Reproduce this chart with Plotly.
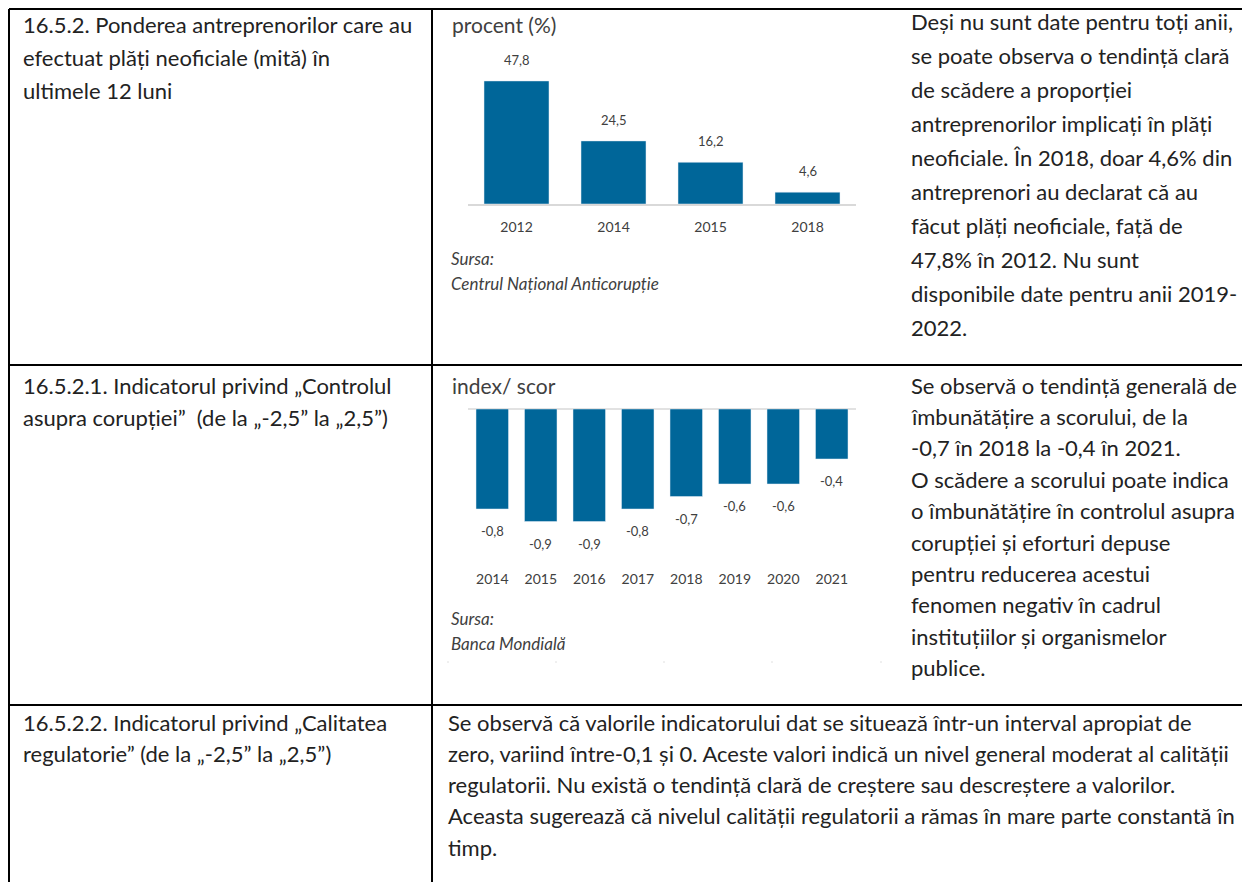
import plotly.graph_objects as go

# the page body keeps its default 8px margin, so the figure is shifted by that much
OFF = 8
W, H = 1250 - OFF, 882 - OFF

# chart 1 - plati neoficiale
years_1 = ["2012", "2014", "2015", "2018"]
share_1 = [47.8, 24.5, 16.2, 4.6]

# chart 2 - controlul asupra coruptiei
years_2 = ["2014", "2015", "2016", "2017", "2018", "2019", "2020", "2021"]
score_2 = [-0.8, -0.9, -0.9, -0.8, -0.7, -0.6, -0.6, -0.4]

left_1 = ["16.5.2. Ponderea antreprenorilor care au",
          "efectuat plăți neoficiale (mită) în",
          "ultimele 12 luni"]
right_1 = ["Deși nu sunt date pentru toți anii,",
           "se poate observa o tendință clară",
           "de scădere a proporției",
           "antreprenorilor implicați în plăți",
           "neoficiale. În 2018, doar 4,6% din",
           "antreprenori au declarat că au",
           "făcut plăți neoficiale, față de",
           "47,8% în 2012. Nu sunt",
           "disponibile date pentru anii 2019-",
           "2022."]
left_2 = ["16.5.2.1. Indicatorul privind „Controlul",
          "asupra corupției”  (de la „-2,5” la „2,5”)"]
right_2 = ["Se observă o tendință generală de",
           "îmbunătățire a scorului, de la",
           "-0,7 în 2018 la -0,4 în 2021.",
           "O scădere a scorului poate indica",
           "o îmbunătățire în controlul asupra",
           "corupției și eforturi depuse",
           "pentru reducerea acestui",
           "fenomen negativ în cadrul",
           "instituțiilor și organismelor",
           "publice."]
left_3 = ["16.5.2.2. Indicatorul privind „Calitatea",
          "regulatorie” (de la „-2,5” la „2,5”)"]
right_3 = ["Se observă că valorile indicatorului dat se situează într-un interval apropiat de",
           "zero, variind între-0,1 și 0. Aceste valori indică un nivel general moderat al calității",
           "regulatorii. Nu există o tendință clară de creștere sau descreștere a valorilor.",
           "Aceasta sugerează că nivelul calității regulatorii a rămas în mare parte constantă în",
           "timp."]

FONT = "Lato"
BLUE = "#006699"
TXT = "#222222"
GREY = "#404040"


def px(x):
    return (x - OFF) / W


def py(y):
    return 1 - (y - OFF) / H


def fmt(v):
    return f"{v:.1f}".replace(".", ",")


fig = go.Figure()
fig.add_trace(go.Bar(x=years_1, y=share_1, marker_color=BLUE, xaxis="x", yaxis="y",
                     hoverinfo="skip"))
fig.add_trace(go.Bar(x=years_2, y=score_2, marker_color=BLUE, xaxis="x2", yaxis="y2",
                     hoverinfo="skip"))

# value labels, placed by category index on the category axes
annotations = []
for i, v in enumerate(share_1):
    annotations.append(dict(x=i, y=v, xref="x", yref="y", text=fmt(v), showarrow=False,
                            yanchor="bottom", yshift=11, font=dict(size=13, color=GREY)))
for i, v in enumerate(score_2):
    annotations.append(dict(x=i, y=v, xref="x2", yref="y2", text=fmt(v), showarrow=False,
                            yanchor="top", yshift=-12, font=dict(size=13, color=GREY)))


def text_block(lines, x, y0, step, size=22):
    for i, line in enumerate(lines):
        annotations.append(dict(x=px(x), y=py(y0 + i * step), xref="paper", yref="paper",
                                text=line, showarrow=False, xanchor="left", yanchor="middle",
                                font=dict(size=size, color=TXT, family=FONT)))


text_block(left_1, 21, 25, 32.5)
text_block(right_1, 909, 22, 33.9)
text_block(left_2, 21, 385, 32)
text_block(right_2, 909, 385, 31.4)
text_block(left_3, 21, 722, 31.3)
text_block(right_3, 446, 722, 31.3)

# chart captions
for txt, x, y, size, ital in [("procent (%)", 450, 25, 21, False),
                              ("Sursa:", 449, 258, 17, True),
                              ("Centrul Național Anticorupție", 449, 283, 17, True),
                              ("index/ scor", 450, 385, 21, False),
                              ("Sursa:", 449, 618, 17, True),
                              ("Banca Mondială", 449, 643, 17, True)]:
    annotations.append(dict(x=px(x), y=py(y), xref="paper", yref="paper",
                            text=f"<i>{txt}</i>" if ital else txt, showarrow=False,
                            xanchor="left", yanchor="middle",
                            font=dict(size=size, color=GREY, family=FONT)))

shapes = []
line = dict(color="black", width=2)
# table borders (outer ones kept just inside the figure so they are not clipped)
shapes.append(dict(type="line", xref="paper", yref="paper", x0=px(9), x1=1, y0=py(9), y1=py(9), line=line))
shapes.append(dict(type="line", xref="paper", yref="paper", x0=px(9), x1=1, y0=py(365), y1=py(365), line=line))
shapes.append(dict(type="line", xref="paper", yref="paper", x0=px(9), x1=1, y0=py(705), y1=py(705), line=line))
shapes.append(dict(type="line", xref="paper", yref="paper", x0=px(9), x1=px(9), y0=py(9), y1=0, line=line))
shapes.append(dict(type="line", xref="paper", yref="paper", x0=px(432), x1=px(432), y0=py(9), y1=0, line=line))
# zero line of chart 2
shapes.append(dict(type="line", xref="paper", yref="paper", x0=px(468), x1=px(856), y0=py(409), y1=py(409),
                   line=dict(color="#d9d9d9", width=1.5), layer="below"))
# faint remnants of the chart frame
for x in [447, 555, 663, 771, 880]:
    shapes.append(dict(type="line", xref="paper", yref="paper", x0=px(x), x1=px(x + 2), y0=py(662), y1=py(662),
                       line=dict(color="#e0e0e0", width=1)))

fig.update_layout(
    width=W, height=H, margin=dict(l=0, r=0, t=0, b=0),
    paper_bgcolor="white", plot_bgcolor="white", showlegend=False,
    font=dict(family=FONT, color=GREY),
    bargap=0.33,
    xaxis=dict(domain=[px(468), px(856)], anchor="y", type="category", range=[-0.5, len(years_1) - 0.5],
               showline=True, linecolor="#d9d9d9", linewidth=1.5, ticks="", ticklabelstandoff=9,
               tickfont=dict(size=14, color=GREY), showgrid=False),
    yaxis=dict(domain=[py(204), py(40)], anchor="x", range=[0, 63.7], visible=False, showgrid=False),
    xaxis2=dict(domain=[px(468), px(856)], anchor="y2", type="category", range=[-0.5, len(years_2) - 0.5],
                showline=False, ticks="", ticklabelstandoff=9, tickfont=dict(size=14, color=GREY),
                showgrid=False),
    yaxis2=dict(domain=[py(560), py(409)], anchor="x2", range=[-1.208, 0], visible=False, showgrid=False,
                zeroline=False),
    annotations=annotations, shapes=shapes,
)

fig.write_html("out.html")
